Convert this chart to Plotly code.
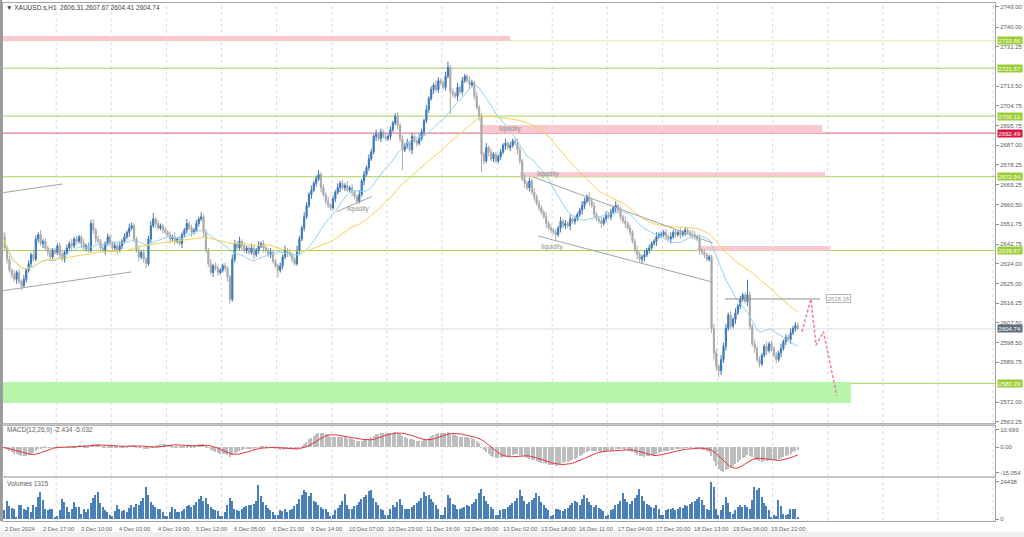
import numpy as np
import pandas as pd
import plotly.graph_objects as go

W, H = 1024, 537

# ---------------- data ----------------
closes = [
    2646, 2641, 2636, 2631, 2629, 2627, 2630, 2626, 2624, 2627, 2631, 2634, 2638, 2636, 2645, 2647, 2643, 2644, 2641, 2639, 2637, 2640, 2639,
    2642, 2638, 2636, 2639, 2641, 2643, 2642, 2645, 2644, 2646, 2643, 2641, 2642, 2640, 2652, 2649, 2645, 2644, 2641, 2640, 2643, 2646, 2643,
    2641, 2642, 2640, 2642, 2644, 2646, 2648, 2650, 2651, 2645, 2640, 2637, 2639, 2636, 2634, 2645, 2651, 2654, 2652, 2650, 2651, 2649, 2648,
    2647, 2645, 2646, 2644, 2645, 2643, 2647, 2649, 2652, 2650, 2648, 2649, 2652, 2654, 2655, 2648, 2640, 2634, 2630, 2633, 2632, 2630, 2631,
    2633, 2632, 2628, 2618, 2636, 2643, 2641, 2644, 2642, 2640, 2641, 2639, 2641, 2638, 2640, 2642, 2643, 2641, 2640, 2638, 2639, 2635, 2633,
    2631, 2633, 2637, 2640, 2639, 2638, 2636, 2634, 2640, 2645, 2650, 2655, 2660, 2665, 2667, 2670, 2672, 2674, 2668, 2665, 2662, 2660, 2659,
    2663, 2666, 2668, 2670, 2668, 2669, 2667, 2668, 2666, 2664, 2662, 2665, 2671, 2674, 2677, 2681, 2684, 2691, 2692, 2690, 2693, 2691, 2690,
    2691, 2694, 2697, 2700, 2696, 2690, 2685, 2687, 2688, 2685, 2691, 2689, 2688, 2690, 2693, 2698, 2703, 2708, 2712, 2714, 2712, 2716, 2715,
    2713, 2718, 2722, 2711, 2710, 2709, 2713, 2711, 2716, 2718, 2716, 2714, 2715, 2709, 2704, 2700, 2683, 2680, 2686, 2684, 2681, 2683, 2680,
    2682, 2684, 2687, 2688, 2686, 2687, 2689, 2688, 2685, 2680, 2672, 2670, 2668, 2671, 2666, 2664, 2661, 2659, 2657, 2655, 2652, 2650, 2649,
    2648, 2647, 2650, 2653, 2651, 2652, 2651, 2654, 2653, 2654, 2656, 2658, 2660, 2662, 2664, 2662, 2660, 2656, 2654, 2653, 2652, 2654, 2656,
    2655, 2657, 2659, 2660, 2658, 2655, 2653, 2652, 2650, 2648, 2644, 2640, 2638, 2636, 2637, 2638, 2640, 2641, 2643, 2644, 2646, 2647, 2647,
    2648, 2646, 2645, 2646, 2648, 2647, 2648, 2647, 2648, 2649, 2648, 2647, 2647, 2646, 2645, 2640, 2639, 2638, 2636, 2637, 2605, 2594, 2588,
    2586, 2591, 2597, 2605, 2611, 2606, 2609, 2612, 2615, 2618, 2620, 2617, 2620, 2606, 2598, 2596, 2591, 2589, 2593, 2597, 2595, 2598, 2596,
    2593, 2591, 2594, 2596, 2599, 2601, 2600, 2603, 2605, 2606.31, 2604.74,
]
first_open = 2648.0

upper_wicks = [
    1.5, 2, 1, 1.5, 1, 2, 1, 1.5, 1, 2, 1, 1.5, 1, 2, 1.5, 1, 2, 1, 1.5, 1, 2, 1, 1,
    1, 1.5, 2, 1, 1.5, 1, 2, 1, 1.5, 1, 1, 2, 1, 1.5, 1.5, 2, 1, 1.5, 1, 2, 1, 1.5, 1,
    1, 1.5, 1, 2, 1, 1.5, 1, 2, 1.5, 1, 1, 2, 1, 1.5, 1, 1.5, 2, 2.7, 1, 1.5, 1, 1, 1.5,
    1, 1.5, 1, 2, 1, 1.5, 1, 1, 2, 1, 1.5, 1, 1.5, 1, 2, 1, 1.5, 1, 2, 1, 1.5, 1, 1,
    1, 1.5, 1, 1, 2, 1.5, 1, 2, 1, 1.5, 1, 1, 2, 1.5, 1, 2, 1, 1.5, 1, 1, 2, 1, 1,
    1, 1.5, 1, 2, 1, 1.5, 1, 1, 2, 1.5, 1, 2, 1.5, 1, 2, 1, 1.5, 2, 1, 1.5, 1, 2, 1,
    1.5, 1, 2, 1, 1.5, 1, 2, 1, 1.5, 1, 1, 2, 1, 1.5, 1, 2, 1.5, 1, 2, 1, 1.5, 1, 1,
    1, 1.5, 1, 1.5, 2, 1, 1.5, 1, 2, 1, 1.5, 1, 1, 2, 1.5, 1, 2, 1, 1.5, 1, 2, 1.5, 1,
    1, 2, 2.5, 1, 1.5, 1, 2, 1, 1.5, 1, 1, 2, 1.5, 1, 2, 1, 1.5, 1, 2, 1, 1.5, 1, 1,
    1, 1.5, 1, 2, 1, 1.5, 1, 1, 2, 1.5, 1, 2, 1, 1.5, 1, 2, 1, 1.5, 1, 1, 2, 1, 1.5,
    1, 1.5, 1, 2, 1, 1.5, 1, 2, 1, 1.5, 1, 1, 2, 1.5, 1, 2, 1, 1.5, 1, 1, 2, 1, 1.5,
    1, 1.5, 1, 2, 1, 1.5, 1, 2, 1, 1.5, 1, 1, 2, 1.5, 1, 2, 1, 1.5, 1, 1, 2, 1, 1.5,
    1, 1.5, 1, 2, 1, 1.5, 1, 2, 1, 1.5, 1, 1, 2, 1.5, 1, 2, 1, 1.5, 1, 1, 1, 2, 1.5,
    1, 2, 1.5, 2, 1, 1.5, 1, 2, 1, 1.5, 1, 1, 6.7, 1.5, 1, 2, 1, 1.5, 1, 1, 2, 1, 1.5,
    1, 1.5, 1, 2, 1, 1.5, 1, 2, 1, 1.5, 1.36,
]
lower_wicks = [
    1.5, 1, 2, 1, 1.5, 1, 2, 1, 2, 1, 1.5, 1, 2, 1, 1, 1.5, 1, 2, 1, 1.5, 1, 1, 1,
    1, 2, 1, 1.5, 1, 1, 2, 1, 1.5, 1, 2, 1, 1.5, 1, 1, 1.5, 2, 1, 1.5, 1, 2, 1, 1,
    1.5, 1, 2, 1, 1.5, 1, 1, 2, 1, 1.5, 1, 2, 1, 1.5, 2, 1, 1.5, 1, 2, 1, 1, 1.5, 1,
    1, 2, 1, 1.5, 1, 1, 2, 1, 1.5, 1, 2, 1, 1, 1.5, 1, 2, 1, 1.5, 1, 2, 1, 1.5, 1,
    1, 1.5, 2, 2, 1, 1.5, 1, 1, 2, 1, 1.5, 1, 1, 2, 1, 1.5, 1, 2, 1, 1, 1.5, 1, 1,
    3, 1, 1.5, 1, 2, 1, 1.5, 1, 1, 2, 1, 1.5, 1, 1, 2, 1, 1.5, 1, 2, 1, 1.5, 1, 1,
    1, 1.5, 1, 2, 1, 1.5, 1, 1, 2, 1, 1.5, 1, 1, 2, 1, 1.5, 1, 1, 2, 1, 1.5, 1, 1,
    1, 1.5, 1, 1, 2, 1.5, 9, 1, 1.5, 1, 2, 1, 1.5, 1, 1, 2, 1, 1.5, 1, 2, 1, 1.5, 1,
    1, 1.5, 1, 10, 1.5, 1, 2, 1, 1.5, 1, 1, 2, 1, 1.5, 1, 2, 8, 1.5, 1, 2, 1, 1.5, 1,
    1, 1.5, 1, 2, 1, 1.5, 1, 1, 2, 1.5, 1, 2, 1, 1.5, 1, 2, 1, 1.5, 1, 1, 2, 1, 1.5,
    1, 2.4, 1, 2, 1, 1.5, 1, 2, 1, 1.5, 1, 1, 2, 1.5, 1, 2, 1, 1.5, 1, 1, 2, 1, 1.5,
    1, 1.5, 1, 2, 1, 1.5, 1, 2, 1, 1.5, 1, 1, 2, 1.5, 1.7, 2, 1, 1.5, 1, 1, 2, 1, 1.5,
    1, 1.5, 1, 2, 1, 1.5, 1, 2, 1, 1.5, 1, 1, 2, 1.5, 1, 2, 1, 1.5, 1, 1, 2, 3, 2,
    3, 2, 1.5, 2, 1, 1.5, 1, 2, 1, 1.5, 1, 1, 2, 1.5, 1, 2, 1, 1.5, 1, 1, 2, 1, 1.5,
    1, 1.5, 1, 2, 1, 1.5, 1, 2, 1, 1.5, 0.33,
]
volumes = [
    6000, 5900, 11900, 8600, 7500, 6500, 1500, 9200, 9200, 7000, 5900, 7700, 4800, 9200, 8100, 14300, 17600, 12500, 7000, 5900, 6500, 7000, 1800,
    2000, 6000, 13000, 11400, 8100, 4800, 6400, 11400, 7700, 8100, 3700, 6400, 4800, 7000, 10300, 13600, 15800, 18000, 10300, 8100, 5900, 4800, 2600,
    2000, 5500, 9000, 7000, 5500, 6000, 4500, 7500, 9000, 8000, 10000, 9500, 12000, 14000, 21000, 16000, 11000, 9000, 8000, 6500, 7000, 5000, 2000,
    2200, 5000, 8000, 6500, 5000, 4500, 5500, 7000, 8500, 9000, 8000, 9500, 11000, 13500, 15000, 12000, 14000, 10000, 8000, 7000, 6000, 5500, 2000,
    2000, 5000, 9000, 14000, 12000, 7000, 6000, 5500, 7000, 8000, 8500, 9000, 9500, 10000, 12000, 22000, 15000, 11000, 9000, 7500, 6000, 5000, 2500,
    3000, 6000, 5500, 6500, 5000, 6000, 7000, 8500, 10000, 13000, 16000, 19000, 18000, 15000, 17000, 12000, 11000, 9000, 8000, 7000, 6500, 5000, 2000,
    2500, 6000, 7500, 9000, 12000, 16500, 9000, 7000, 6500, 8500, 9500, 11000, 13000, 14500, 16000, 18500, 19000, 14000, 11000, 9000, 7000, 6000, 2500,
    2500, 7000, 9000, 8000, 11000, 13000, 9000, 7000, 6500, 7000, 8000, 9500, 10500, 12000, 14000, 18000, 15000, 16000, 13000, 11000, 9000, 7000, 2500,
    3000, 8000, 16000, 14000, 10000, 9000, 7000, 6500, 7500, 8000, 9000, 8500, 10000, 11000, 13000, 17000, 19500, 15000, 12000, 10000, 8000, 6500, 2500,
    2500, 6000, 7000, 6500, 8000, 9000, 10500, 12000, 14000, 19000, 15000, 12000, 10000, 11000, 12500, 14000, 17000, 15000, 11000, 9000, 7500, 6000, 2000,
    3000, 6500, 7000, 6000, 5500, 6500, 7500, 9000, 10500, 12000, 11000, 9500, 13000, 16000, 14000, 11000, 9000, 8000, 9000, 7500, 6500, 5500, 2000,
    2500, 6000, 7000, 9000, 10000, 12000, 17000, 13000, 11000, 10000, 12000, 14000, 16000, 20000, 15000, 12000, 10000, 9000, 8000, 7500, 9000, 6500, 2500,
    2500, 6000, 7000, 6500, 7500, 6000, 7000, 8000, 7500, 9000, 8500, 10000, 11000, 12000, 13500, 14300, 12500, 9200, 7000, 5900, 24438, 21300, 7000,
    2600, 5900, 9200, 14300, 10300, 4800, 3700, 5900, 7700, 9200, 8100, 9200, 8100, 7000, 12800, 20700, 19100, 20200, 14300, 10800, 8600, 5900, 1500,
    2600, 2000, 12500, 8600, 3700, 2600, 3300, 6400, 6400, 6400, 1315,
]
assert len(closes) == len(upper_wicks) == len(lower_wicks) == len(volumes)

time_tick_bars = list(range(0, 321, 16))
time_tick_text = ["2 Dec 2024", "2 Dec 17:00", "3 Dec 10:00", "4 Dec 03:00", "4 Dec 19:00",
                  "5 Dec 12:00", "6 Dec 05:00", "6 Dec 21:00", "9 Dec 14:00", "10 Dec 07:00",
                  "10 Dec 23:00", "11 Dec 16:00", "12 Dec 09:00", "13 Dec 02:00", "13 Dec 18:00",
                  "16 Dec 11:00", "17 Dec 04:00", "17 Dec 20:00", "18 Dec 13:00", "19 Dec 06:00",
                  "19 Dec 22:00"]
day_start_bars = list(range(23, 420, 23))

price_ticks = [2749.00, 2740.00, 2731.25, 2713.50, 2704.75, 2695.75, 2687.00, 2678.25,
               2669.25, 2660.50, 2651.75, 2642.75, 2634.00, 2625.00, 2616.25, 2607.50,
               2598.50, 2589.75, 2572.00, 2563.25]
macd_ticks = [10.699, 0.0, -15.054]
macd_tick_text = ["10.699", "0.00", "-15.054"]
vol_ticks = [24438, 0]

green_levels = [2733.86, 2721.57, 2700.10, 2672.94, 2639.87, 2580.39]
red_level = 2692.49
last_price = 2604.74
target_level = 2618.18

# zones: (bar_from, bar_to, price_low, price_high)
pink_zones = [(0.3, 211.9, 2733.8, 2736.0), (199.4, 342.1, 2692.4, 2696.1),
              (216.1, 343.4, 2673.0, 2675.0), (291.2, 345.5, 2639.8, 2641.9)]
green_zone = (0.3, 354.2, 2571.5, 2581.0)
# trend lines: (bar0, price0, bar1, price1)
trend_lines = [(0.4, 2665.8, 25.2, 2669.7), (0.4, 2621.9, 54.0, 2630.3),
               (139.6, 2657.3, 154.2, 2664.0), (221.5, 2672.8, 296.6, 2643.2),
               (223.6, 2646.4, 296.2, 2625.8)]
target_line = (301.6, 341.3)
liquidity_labels = [(143.0, 2658.5), (206.5, 2694.3), (222.3, 2674.2), (224.0, 2641.5)]
forecast_bars = [333.7, 337.5, 339.6, 342.7, 348.3]
forecast_prices = [2603.5, 2618.18, 2597.5, 2603.5, 2574.7]

# ---------------- derived series ----------------
n = len(closes)
idx = np.arange(n)
opens = [first_open] + closes[:-1]
highs = [max(o, c) + u for o, c, u in zip(opens, closes, upper_wicks)]
lows = [min(o, c) - l for o, c, l in zip(opens, closes, lower_wicks)]
s = pd.Series(closes, dtype=float)
ma_fast = s.rolling(20, min_periods=1).mean()
ma_slow = s.rolling(50, min_periods=1).mean()
macd_main = s.ewm(span=12, adjust=False).mean() - s.ewm(span=26, adjust=False).mean()
macd_signal = macd_main.rolling(9, min_periods=1).mean()

# ---------------- layout geometry ----------------
X_LO, X_HI = 0.3, 414.3
def px_x(x):
    return x / W
def px_y(y):
    return 1 - y / H

FONT = "Liberation Sans"
AX_COL = "#a4a4a4"
TXT_COL = "#5c5c5c"

fig = go.Figure()
fig.add_trace(go.Candlestick(
    x=idx, open=opens, high=highs, low=lows, close=closes,
    increasing=dict(line=dict(color="#3b78b6", width=1), fillcolor="#3b78b6"),
    decreasing=dict(line=dict(color="#a9a9a9", width=1), fillcolor="#a9a9a9"),
    whiskerwidth=0, xaxis="x", yaxis="y", showlegend=False, hoverinfo="skip"))
fig.add_trace(go.Scatter(x=idx, y=ma_fast, mode="lines", line=dict(color="#93d2ee", width=1),
                         xaxis="x", yaxis="y", showlegend=False, hoverinfo="skip"))
fig.add_trace(go.Scatter(x=idx, y=ma_slow, mode="lines", line=dict(color="#f4d250", width=1),
                         xaxis="x", yaxis="y", showlegend=False, hoverinfo="skip"))
fig.add_trace(go.Scatter(x=forecast_bars, y=forecast_prices, mode="lines",
                         line=dict(color="#f27b97", width=1.5, dash="3px,2px"),
                         xaxis="x", yaxis="y", showlegend=False, hoverinfo="skip"))
fig.add_trace(go.Bar(x=idx, y=macd_main, marker=dict(color="#bdbdbd", line=dict(width=0)),
                     width=0.5, xaxis="x2", yaxis="y2", showlegend=False, hoverinfo="skip"))
fig.add_trace(go.Scatter(x=idx, y=macd_signal, mode="lines", line=dict(color="#e8343c", width=1),
                         xaxis="x2", yaxis="y2", showlegend=False, hoverinfo="skip"))
fig.add_trace(go.Bar(x=idx, y=volumes, marker=dict(color="#4a80b6", line=dict(width=0)),
                     width=0.62, xaxis="x3", yaxis="y3", showlegend=False, hoverinfo="skip"))

shapes = []
# vertical dashed day grid in every panel
for b in day_start_bars:
    for yr in ["y domain", "y2 domain", "y3 domain"]:
        shapes.append(dict(type="line", xref="x", yref=yr, x0=b - 0.5, x1=b - 0.5, y0=0, y1=1,
                           line=dict(color="#d9d9e6", width=1, dash="3px,3px"), layer="below"))
for (b0, b1, p0, p1) in pink_zones:
    shapes.append(dict(type="rect", xref="x", yref="y", x0=b0, x1=b1, y0=p0, y1=p1,
                       fillcolor="#f9c8d1", line=dict(width=0), layer="below"))
gb0, gb1, gp0, gp1 = green_zone
shapes.append(dict(type="rect", xref="x", yref="y", x0=gb0, x1=gb1, y0=gp0, y1=gp1,
                   fillcolor="#b7f6aa", line=dict(width=0), layer="below"))
for k, lv in enumerate(green_levels):
    col = "#d7ecb4" if k == 0 else "#a6d25a"
    shapes.append(dict(type="line", xref="x domain", yref="y", x0=0, x1=1, y0=lv, y1=lv,
                       line=dict(color=col, width=1), layer="below"))
shapes.append(dict(type="line", xref="x domain", yref="y", x0=0, x1=1, y0=red_level, y1=red_level,
                   line=dict(color="#e0607a", width=1), layer="below"))
shapes.append(dict(type="line", xref="x domain", yref="y", x0=0, x1=1, y0=last_price, y1=last_price,
                   line=dict(color="#d9d9e8", width=1), layer="below"))
for (b0, p0, b1, p1) in trend_lines:
    shapes.append(dict(type="line", xref="x", yref="y", x0=b0, x1=b1, y0=p0, y1=p1,
                       line=dict(color="#a3a3a3", width=1)))
shapes.append(dict(type="line", xref="x", yref="y", x0=target_line[0], x1=target_line[1],
                   y0=target_level, y1=target_level, line=dict(color="#8f8f8f", width=1)))
# panel separators and outer strips
for (ya, yb) in [(423.5, 425.5), (476.0, 478.0)]:
    shapes.append(dict(type="rect", xref="paper", yref="paper", x0=0, x1=px_x(995),
                       y0=px_y(yb), y1=px_y(ya), fillcolor="#c6c6c6", line=dict(width=0)))
shapes.append(dict(type="rect", xref="paper", yref="paper", x0=0, x1=1, y0=0, y1=px_y(532),
                   fillcolor="#f0f0f0", line=dict(width=0)))
shapes.append(dict(type="rect", xref="paper", yref="paper", x0=0, x1=px_x(2.2), y0=px_y(521), y1=1,
                   fillcolor="#9a9a9a", line=dict(width=0)))

ann = []
ann.append(dict(xref="paper", yref="paper", x=px_x(4), y=px_y(8), xanchor="left", yanchor="middle",
                text="▼ XAUUSD.s,H1  2606.31 2607.67 2604.41 2604.74", showarrow=False,
                font=dict(family=FONT, size=6.5, color="#404040")))
ann.append(dict(xref="paper", yref="paper", x=px_x(5), y=px_y(430), xanchor="left", yanchor="middle",
                text="MACD(12,26,9) -2.434 -5.032", showarrow=False,
                font=dict(family=FONT, size=6.5, color="#606060")))
ann.append(dict(xref="paper", yref="paper", x=px_x(5), y=px_y(483), xanchor="left", yanchor="middle",
                text="Volumes 1315", showarrow=False,
                font=dict(family=FONT, size=6.5, color="#606060")))
for b, t in zip(time_tick_bars, time_tick_text):
    ann.append(dict(xref="x3", yref="paper", x=max(b, X_LO), y=px_y(529), xanchor="left",
                    yanchor="middle", text=t, showarrow=False,
                    font=dict(family=FONT, size=5.8, color=TXT_COL)))
for (b, p) in liquidity_labels:
    ann.append(dict(xref="x", yref="y", x=b, y=p, xanchor="left", yanchor="middle",
                    text="liquidity", showarrow=False, font=dict(family=FONT, size=6.5, color="#8c8c8c")))
ann.append(dict(xref="x", yref="y", x=target_line[1] + 2.6, y=target_level, xanchor="left",
                yanchor="middle", text="2618.18", showarrow=False, bgcolor="#ffffff",
                bordercolor="#b5b5b5", borderwidth=1, borderpad=0.5,
                font=dict(family=FONT, size=6, color="#9a9a9a")))
def tag(level, color, text):
    return dict(xref="paper", yref="y", x=px_x(996.5), y=level, xanchor="left", yanchor="middle",
                text=text, showarrow=False, bgcolor=color, borderpad=0.6,
                font=dict(family=FONT, size=6, color="#ffffff"))
for lv in green_levels:
    ann.append(tag(lv, "#9acd32", f"{lv:.2f}"))
ann.append(tag(red_level, "#dc143c", f"{red_level:.2f}"))
ann.append(tag(last_price, "#5f6e7c", f"{last_price:.2f}"))

xcommon = dict(range=[X_LO, X_HI], domain=[px_x(3), px_x(995)], showgrid=False, zeroline=False,
               showticklabels=False, showline=True, linecolor=AX_COL, mirror=True, ticks="",
               automargin=False)
ycommon = dict(side="right", showgrid=False, zeroline=False, showline=True, linecolor=AX_COL,
               mirror=True, ticks="outside", ticklen=3, tickcolor="#8c8c8c", automargin=False,
               tickfont=dict(family=FONT, size=6, color=TXT_COL))

fig.update_layout(
    width=W, height=H, margin=dict(l=0, r=0, t=0, b=0, pad=0, autoexpand=False),
    paper_bgcolor="#ffffff", plot_bgcolor="#ffffff", showlegend=False, bargap=0,
    xaxis=dict(**xcommon, anchor="y", rangeslider=dict(visible=False)),
    xaxis2=dict(**xcommon, anchor="y2", matches="x"),
    xaxis3=dict(**xcommon, anchor="y3", matches="x"),
    yaxis=dict(**ycommon, anchor="x", domain=[px_y(423), px_y(3)], range=[2562.59, 2750.79],
               tickvals=price_ticks, ticktext=[f"{v:.2f}" for v in price_ticks]),
    yaxis2=dict(**ycommon, anchor="x2", domain=[px_y(476), px_y(426)], range=[-17.17, 12.74],
                tickvals=macd_ticks, ticktext=macd_tick_text),
    yaxis3=dict(**ycommon, anchor="x3", domain=[px_y(521), px_y(478)], range=[-1105, 26843],
                tickvals=vol_ticks, ticktext=[str(v) for v in vol_ticks]),
    shapes=shapes, annotations=ann,
)

fig.write_html("out.html", config={"displayModeBar": False},
               post_script="document.body.style.margin='0';document.body.style.overflow='hidden';")
